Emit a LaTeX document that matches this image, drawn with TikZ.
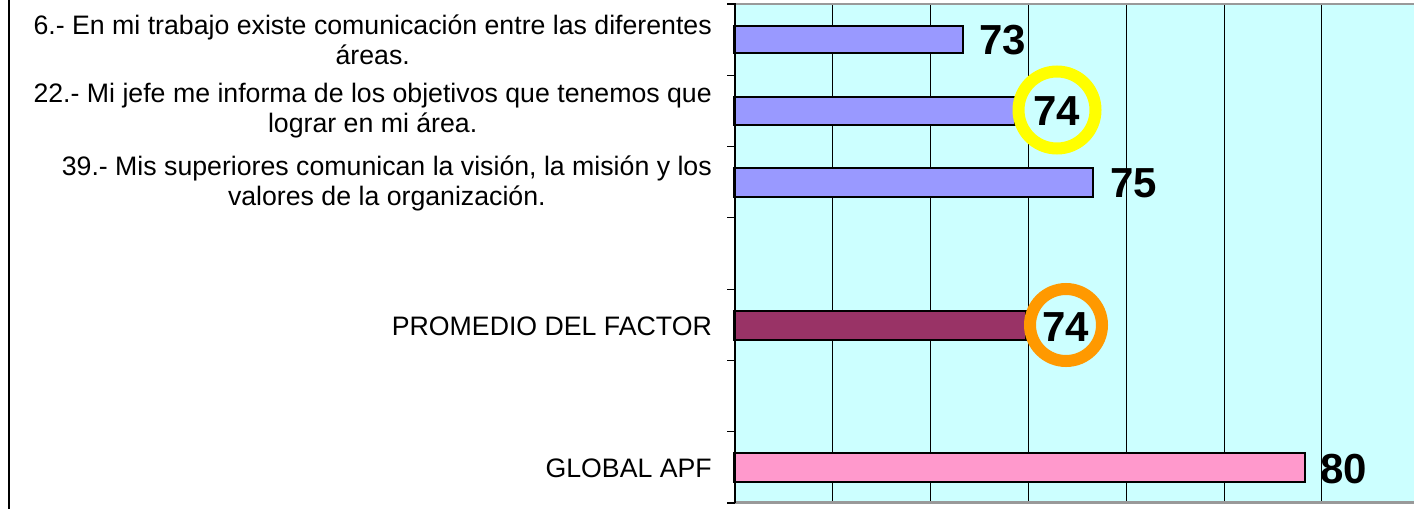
\documentclass[tikz,border=0pt]{standalone}
\usepackage{fontspec}
\setmainfont{Liberation Sans}
\definecolor{bgc}{HTML}{CCFFFF}
\definecolor{barblue}{HTML}{9999FF}
\definecolor{barplum}{HTML}{993366}
\definecolor{barpink}{HTML}{FF99CC}
\definecolor{ringyellow}{HTML}{FFFF00}
\definecolor{ringorange}{HTML}{FF9900}
\definecolor{frame}{HTML}{999999}
\begin{document}
\begin{tikzpicture}[x=1pt,y=-1pt,
  lbl/.style={anchor=east, align=center, inner sep=0pt, font=\fontsize{26.7}{30}\selectfont},
  val/.style={anchor=west, inner sep=0pt, font=\fontsize{42}{42}\selectfont\bfseries},
  barbox/.style={draw=black, line width=2pt},
  gridline/.style={draw=black, line width=1pt},
  ring/.style={circle, line width=12pt, fill=bgc, inner sep=0pt}]
\useasboundingbox (0,0) rectangle (1414,509);
% left frame line
\draw[line width=1.5pt] (9,0) -- (9,509);
% plot area
\fill[bgc] (734,4) rectangle (1414,502);
\foreach \x in {832.4,930.3,1028.2,1126.1,1224,1321.9}
  \draw[gridline] (\x,4) -- (\x,502);
% bars
\draw[barbox, fill=barblue] (734,26) rectangle (963,53);
\draw[barbox, fill=barblue] (734,97) rectangle (1015,125);
\draw[barbox, fill=barblue] (734,168) rectangle (1093,197);
\draw[barbox, fill=barplum] (734,311) rectangle (1026,340);
\draw[barbox, fill=barpink] (734,453) rectangle (1305,482);
% frame lines
\draw[frame, line width=2.5pt] (734,4) -- (1414,4);
\draw[frame, line width=2.5pt] (734,502.5) -- (1414,502.5);
\draw[black, line width=2pt] (734.5,3) -- (734.5,503);
\foreach \k in {0,...,7}
  \draw[black, line width=1.2pt] (727,{4+71.29*\k}) -- (734.5,{4+71.29*\k});
% rings
\node[ring, draw=ringyellow, minimum size=77pt] (ringA) at (1057,110) {};
\node[ring, draw=ringorange, minimum size=72pt] (ringB) at (1066,325) {};
% values
\node[val] (v1) at (979,40) {73};
\node[val] (v2) at (1033,111) {74};
\node[val] (v3) at (1110,183) {75};
\node[val] (v4) at (1042,327) {74};
\node[val] (v5) at (1320,469) {80};
% labels
\node[lbl] (l1) at (712,40) {6.- En mi trabajo existe comunicación entre las diferentes\\áreas.};
\node[lbl] (l2) at (712,111) {22.- Mi jefe me informa de los objetivos que tenemos que\\lograr en mi área.};
\node[lbl] (l3) at (712,183) {39.- Mis superiores comunican la visión, la misión y los\\valores de la organización.};
\node[lbl] (l4) at (712,326) {PROMEDIO DEL FACTOR};
\node[lbl] (l5) at (712,468) {GLOBAL APF};
\end{tikzpicture}
\end{document}
